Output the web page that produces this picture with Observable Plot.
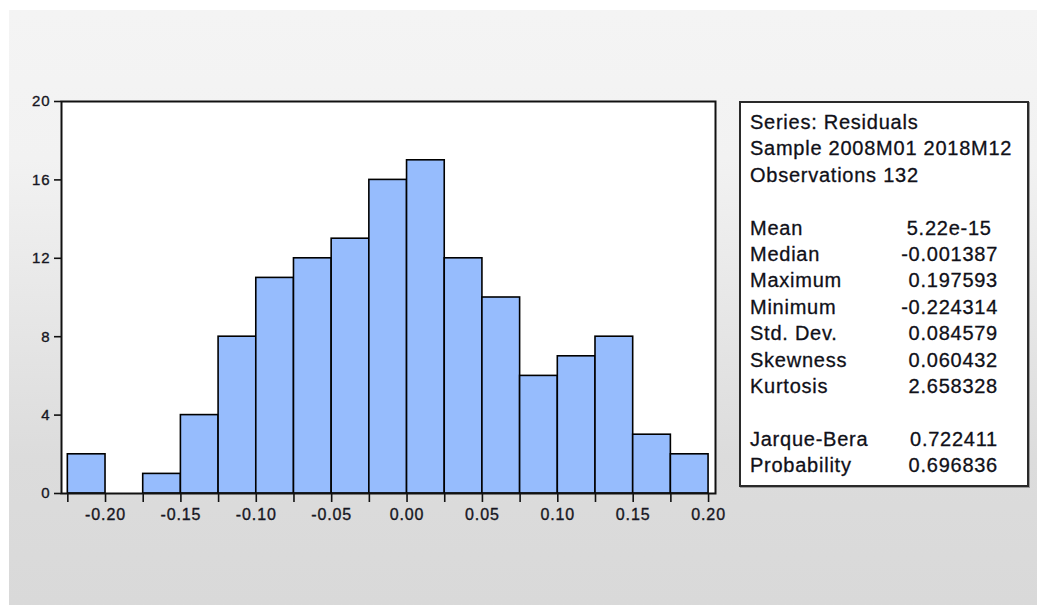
<!DOCTYPE html>
<html>
<head>
<meta charset="utf-8">
<script src="https://cdn.jsdelivr.net/npm/d3@7"></script>
<script src="https://cdn.jsdelivr.net/npm/@observablehq/plot@0.6"></script>
<style>
  html, body { margin: 0; padding: 0; background: #ffffff; }
  #page { position: relative; width: 1037px; height: 605px; overflow: hidden; background: #ffffff; }
  #panel { position: absolute; left: 9px; top: 10px; width: 1028px; height: 595px;
           background: linear-gradient(#f4f4f4 0%, #f2f2f2 25%, #dcdcdc 75%, #d9d9d9 100%); }
  #chart { position: absolute; left: 0; top: 0; }
  #chart svg text { letter-spacing: 0.9px; stroke: #161622; stroke-width: 0.35px; }
  #stats { position: absolute; left: 739px; top: 101px; width: 286px; height: 382px;
           background: #ffffff; border: 2px solid #2a2a2a; box-shadow: 1px 1px 0 #9a9a9a;
           font-family: "Liberation Sans", Arial, sans-serif; font-size: 20px; letter-spacing: 0.75px;
           color: #101018; -webkit-text-stroke: 0.3px #101018; padding: 0; }
  #stats .inner { position: absolute; left: 9px; top: 6px; width: 248px; }
  #stats .row { height: 26.4px; line-height: 26.4px; display: flex; justify-content: space-between; white-space: pre; }
</style>
</head>
<body>
<div id="page">
  <div id="panel"></div>
  <div id="chart"></div>
  <div id="stats"><div class="inner" id="statsInner"></div></div>
</div>
<script>
// ---- data ----
const binLow  = [-0.225, -0.200, -0.175, -0.150, -0.125, -0.100, -0.075, -0.050, -0.025, 0.000, 0.025, 0.050, 0.075, 0.100, 0.125, 0.150, 0.175];
const binHigh = [-0.200, -0.175, -0.150, -0.125, -0.100, -0.075, -0.050, -0.025, 0.000, 0.025, 0.050, 0.075, 0.100, 0.125, 0.150, 0.175, 0.200];
const counts  = [2, 0, 1, 4, 8, 11, 12, 13, 16, 17, 12, 10, 6, 7, 8, 3, 2];
const edgeTicks = [-0.225, -0.200, -0.175, -0.150, -0.125, -0.100, -0.075, -0.050, -0.025, 0.000, 0.025, 0.050, 0.075, 0.100, 0.125, 0.150, 0.175, 0.200];
const xLabelTicks = [-0.20, -0.15, -0.10, -0.05, 0.00, 0.05, 0.10, 0.15, 0.20];
const yTicks = [0, 4, 8, 12, 16, 20];

const headerLines = ["Series: Residuals", "Sample 2008M01 2018M12", "Observations 132"];
const statLabels1 = ["Mean", "Median", "Maximum", "Minimum", "Std. Dev.", "Skewness", "Kurtosis"];
const statValues1 = ["5.22e-15 ", "-0.001387", "0.197593", "-0.224314", "0.084579", "0.060432", "2.658328"];
const statLabels2 = ["Jarque-Bera", "Probability"];
const statValues2 = ["0.722411", "0.696836"];

// ---- chart ----
const bins = binLow.map((lo, i) => ({lo, hi: binHigh[i], count: counts[i]}));
const font = "'Liberation Sans', Arial, sans-serif";

const chart = Plot.plot({
  width: 1037,
  height: 605,
  marginLeft: 61,
  marginRight: 322,
  marginTop: 101,
  marginBottom: 112,
  x: {domain: [-0.2292, 0.2046], label: null},
  y: {domain: [0, 20], label: null},
  style: {background: "transparent", fontFamily: font, color: "#161622", overflow: "visible"},
  marks: [
    Plot.frame({fill: "white", stroke: null}),
    Plot.rectY(bins, {x1: "lo", x2: "hi", y: "count", fill: "#96bcfd", stroke: "black", strokeWidth: 1.6}),
    Plot.frame({stroke: "#111", strokeWidth: 2}),
    Plot.axisY({ticks: yTicks, tickSize: 7, tickPadding: 4, fontSize: 15, stroke: "#111", strokeWidth: 1.6,
                tickFormat: d => String(d), label: null}),
    Plot.axisX({ticks: edgeTicks, tickSize: 9, tickFormat: () => "", stroke: "#111", strokeWidth: 1.6, label: null}),
    Plot.axisX({ticks: xLabelTicks, tickSize: 0, tickPadding: 15, fontSize: 16,
                tickFormat: d => d.toFixed(2), label: null})
  ]
});
document.getElementById("chart").appendChild(chart);

// ---- stats box ----
const inner = document.getElementById("statsInner");
function addRow(label, value) {
  const r = document.createElement("div");
  r.className = "row";
  const a = document.createElement("span"); a.textContent = label;
  const b = document.createElement("span"); b.textContent = value;
  r.appendChild(a); r.appendChild(b);
  inner.appendChild(r);
}
headerLines.forEach(h => addRow(h, ""));
addRow(" ", "");
statLabels1.forEach((l, i) => addRow(l, statValues1[i]));
addRow(" ", "");
statLabels2.forEach((l, i) => addRow(l, statValues2[i]));
</script>
</body>
</html>
